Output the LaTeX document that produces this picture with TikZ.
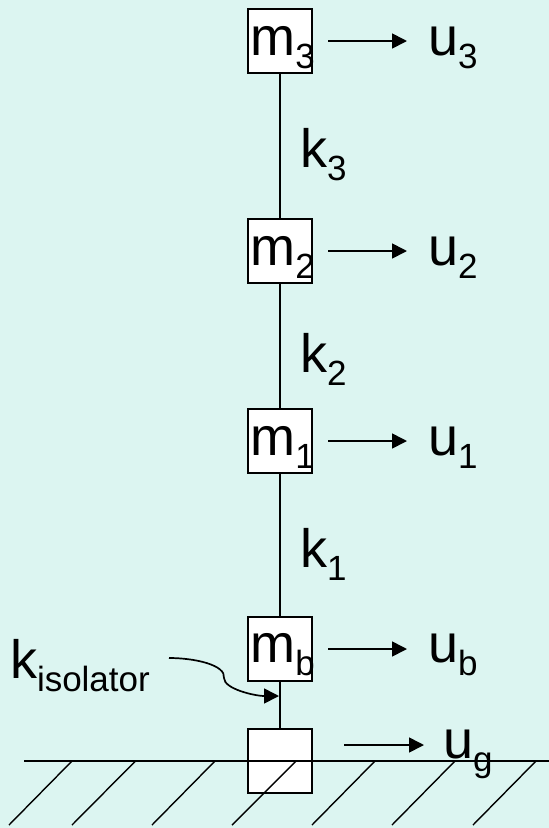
\documentclass[tikz,border=0pt]{standalone}
\usepackage{fontspec}
\setmainfont{Liberation Sans}
\usetikzlibrary{arrows.meta}
\definecolor{bgc}{RGB}{220,245,241}
\newcommand{\lbl}[2]{#1\raisebox{-13.5pt}{\fontsize{35}{35}\selectfont #2}}
\tikzset{
  mass/.style={draw=black,fill=white,line width=2pt,minimum width=64pt,minimum height=64pt,inner sep=0pt,outer sep=0pt,anchor=north west},
  lab/.style={anchor=base west,inner sep=0pt,outer sep=0pt,font=\fontsize{54}{54}\selectfont},
  rod/.style={line width=1.8pt},
  motion/.style={line width=1.7pt,-{Triangle[length=15pt,width=15pt]}},
  hatchline/.style={line width=1.4pt},
}
\begin{document}
\begin{tikzpicture}[x=1pt,y=-1pt]
\useasboundingbox[fill=bgc] (0,0) rectangle (549,828);
% masses
\node[mass] (M3) at (248,9) {};
\node[mass] (M2) at (248,219) {};
\node[mass] (M1) at (248,409) {};
\node[mass] (Mb) at (248,617) {};
\node[mass] (G)  at (248,729) {};
% rods
\draw[rod] (M3) -- (M2);
\draw[rod] (M2) -- (M1);
\draw[rod] (M1) -- (Mb);
\draw[rod] (Mb) -- (G);
% ground
\coordinate (gl) at (24,761);
\coordinate (gr) at (549,761);
\draw[line width=1.6pt] (gl) -- (gr);
\foreach \t/\b in {72/9,135.5/72,215/152,296/232,375/312,455/392,536/473}
  \draw[hatchline] (\t,761) -- (\b,825);
% labels
\node[lab] (tm3) at (250.5,55) {\lbl{m}{3}};
\node[lab] (tm2) at (250.5,265) {\lbl{m}{2}};
\node[lab] (tm1) at (250.5,455) {\lbl{m}{1}};
\node[lab] (tmb) at (250.5,662) {\lbl{m}{b}};
\node[lab] (tk3) at (300,167) {\lbl{k}{3}};
\node[lab] (tk2) at (300,372) {\lbl{k}{2}};
\node[lab] (tk1) at (300,567) {\lbl{k}{1}};
\node[lab] (tu3) at (428,55) {\lbl{u}{3}};
\node[lab] (tu2) at (428,265) {\lbl{u}{2}};
\node[lab] (tu1) at (428,455) {\lbl{u}{1}};
\node[lab] (tub) at (428,662) {\lbl{u}{b}};
\node[lab] (tug) at (443,758) {\lbl{u}{g}};
\node[lab] (tki) at (10,678) {\lbl{k}{isolator}};
% motion arrows
\foreach \n/\y/\a/\b in {3/41/328/407,2/251/328/407,1/441/328/407,b/649/328/407,g/745/344/424}{
  \coordinate (s\n) at (\a,\y);
  \coordinate (e\n) at (\b,\y);
  \draw[motion] (s\n) -- (e\n);
}
% isolator pointer
\coordinate (ps) at (169,658);
\coordinate (pm) at (224,678);
\coordinate (pe) at (279,696);
\draw[motion] (ps) .. controls (195,658) and (226,665) .. (pm) .. controls (224,689) and (255,696) .. (pe);
\end{tikzpicture}
\end{document}
